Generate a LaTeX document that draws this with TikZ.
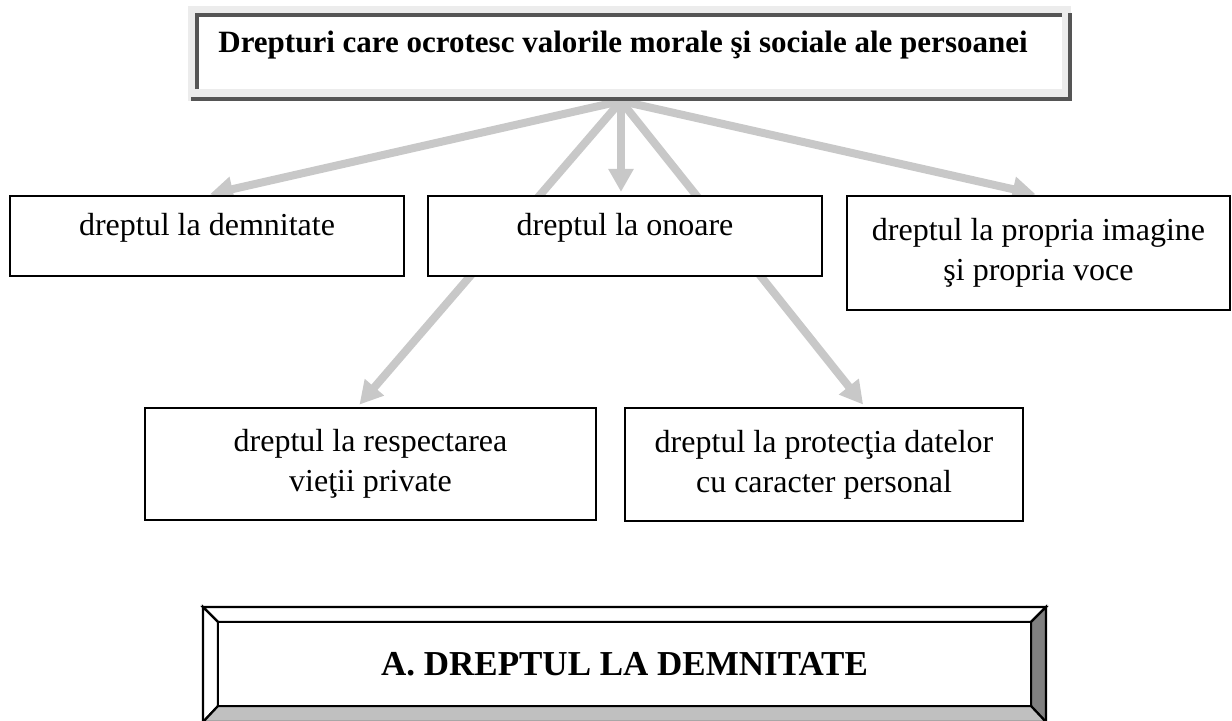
\documentclass[tikz,border=0pt]{standalone}
\usepackage{fontspec}
\setmainfont{Liberation Serif}
\usepackage{tikz}
\usetikzlibrary{arrows.meta}
\usetikzlibrary{backgrounds}
\definecolor{sagrey}{HTML}{C8C8C8}
\definecolor{hdrlight}{HTML}{ECECEC}
\definecolor{hdrdark}{HTML}{555555}
\definecolor{bevdark}{HTML}{808080}
\definecolor{bevlight}{HTML}{C0C0C0}
\tikzset{
	dreptnode/.style={rectangle, draw=black, fill=white, line width=1.1pt, align=center, font=\fontsize{16}{20}\selectfont}
}
\tikzset{
	unrand/.style={dreptnode, text height=11pt, text depth=12pt}
}
\tikzset{
	sageata/.style={draw=sagrey, line width=4pt, -{Triangle[length=11.5pt,width=12pt]}, shorten >=1.5pt}
}
\tikzset{
	bevel/.style={draw=black, line width=1.1pt, line join=miter}
}

\begin{document}
\begin{tikzpicture}[x=0.5pt,y=-0.5pt]
			\useasboundingbox (0,0) rectangle (1232,720);
			% antet
			\fill[hdrlight] (188,6) rectangle (1071,101);
			\fill[white] (199,17) rectangle (1062,89);
			\draw[hdrdark,line width=1.6pt] (197,89) -- (197,15) -- (1062,15);
			\draw[hdrdark,line width=1.6pt] (191,99) -- (1070,99) -- (1070,13);
			\node[font=\bfseries\fontsize{15.5}{18}\selectfont, anchor=base] (hdr) at (623,52) {Drepturi care ocrotesc valorile morale şi sociale ale persoanei};
			\coordinate (apex) at (621,101);
			% casete
			\node[unrand, minimum width=197pt, minimum height=40pt] (dem) at (207,236) {dreptul la demnitate};
			\node[unrand, minimum width=197pt, minimum height=40pt] (ono) at (625,236) {dreptul la onoare};
			\node[dreptnode, minimum width=191.5pt, minimum height=57pt] (img) at (1038.5,253) {dreptul la propria imagine\\şi propria voce};
			\node[dreptnode, minimum width=225.5pt, minimum height=56pt] (viata) at (370.5,464) {dreptul la respectarea\\vieţii private};
			\node[dreptnode, minimum width=199pt, minimum height=56.5pt] (date) at (824,464.5) {dreptul la protecţia datelor\\cu caracter personal};
			\begin{scope}[on background layer]
				\draw[sageata] (apex) -- (dem.north);
				\draw[sageata] (apex) -- (apex |- ono.north);
				\draw[sageata] (apex) -- (img.north);
				\draw[sageata] (apex) -- ([xshift=-6.5pt]viata.north);
				\draw[sageata] (apex) -- ([xshift=20.5pt]date.north);
			\end{scope}
			% titlu
			\filldraw[bevel, fill=white] (203,607) -- (1046,607) -- (1031,622) -- (218,622) -- cycle;
			\filldraw[bevel, fill=white] (203,607) -- (218,622) -- (218,706) -- (203,722) -- cycle;
			\filldraw[bevel, fill=bevdark] (1046,607) -- (1046,722) -- (1031,706) -- (1031,622) -- cycle;
			\filldraw[bevel, fill=bevlight] (203,722) -- (218,706) -- (1031,706) -- (1046,722) -- cycle;
			\filldraw[bevel, fill=white] (218,622) rectangle (1031,706);
			\node[font=\bfseries\fontsize{17.5}{20}\selectfont, anchor=base] (ttl) at (624.5,675) {A. DREPTUL LA DEMNITATE};
		\end{tikzpicture}
\end{document}
